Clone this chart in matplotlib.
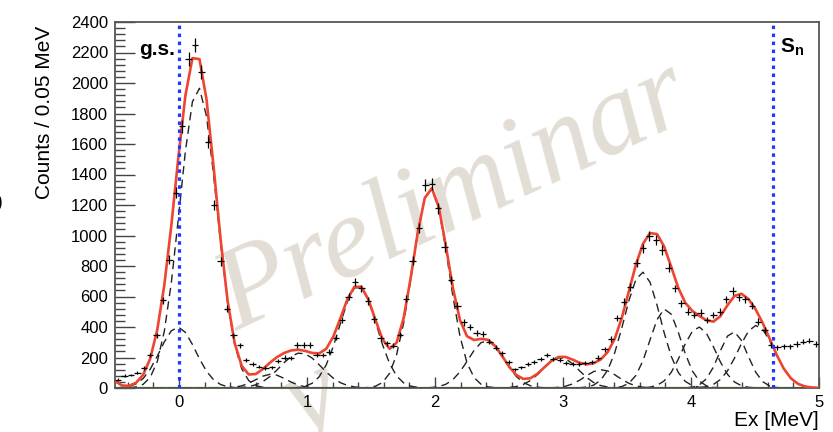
import numpy as np
import matplotlib
matplotlib.use("Agg")
import matplotlib.pyplot as plt
from matplotlib.ticker import MultipleLocator

plt.rcParams['font.family'] = ['Liberation Sans', 'DejaVu Sans']
plt.rcParams['mathtext.fontset'] = 'custom'
plt.rcParams['mathtext.bf'] = 'Liberation Sans:bold'
plt.rcParams['mathtext.rm'] = 'Liberation Sans'

# Excitation-energy histogram, 0.05 MeV bins from -0.5 to 5.0 MeV
bin_width = 0.05
ex_centers = np.round(np.arange(-0.5 + bin_width / 2, 5.0, bin_width), 3)
counts = [
    55, 80, 85, 100, 130, 215, 345, 575, 840, 1280,
    1715, 2160, 2250, 2075, 1615, 1200, 830, 520, 345, 280,
    185, 155, 140, 130, 135, 180, 200, 195, 282, 282,
    282, 216, 218, 238, 330, 446, 600, 694, 653, 570,
    450, 326, 293, 276, 350, 585, 835, 1050, 1331, 1338,
    1178, 925, 710, 540, 430, 402, 360, 354, 304, 265,
    228, 172, 122, 135, 157, 172, 188, 215, 188, 184,
    162, 157, 157, 162, 173, 200, 255, 320, 460, 565,
    660, 820, 915, 997, 970, 905, 790, 653, 555, 501,
    479, 494, 446, 479, 501, 581, 638, 594, 581, 538,
    435, 380, 282, 267, 275, 275, 289, 304, 310, 289,
]

# Gaussian peak components of the fit
peak_centroids = [-0.60, -0.01, 0.15, 0.72, 0.95, 1.40, 1.965, 2.40, 2.98, 3.30,
                  3.62, 3.80, 4.06, 4.33, 4.51]
peak_amplitudes = [110, 400, 1970, 90, 230, 670, 1310, 310, 200, 120,
                   760, 520, 400, 370, 410]
peak_sigmas = [0.075, 0.14, 0.145, 0.12, 0.16, 0.145, 0.14, 0.14, 0.14, 0.13,
               0.14, 0.12, 0.13, 0.11, 0.14]
background_level = 0.0

ground_state = 0.0
neutron_separation = 4.64

fig = plt.figure(figsize=(8.33, 4.32), dpi=100)
ax = fig.add_axes([115 / 833, 1 - 388 / 432, 704 / 833, 366 / 432])
ax.set_xlim(-0.5, 5.0)
ax.set_ylim(0, 2400)

ex_fine = np.linspace(-0.5, 5.0, 101)


def gauss(x, mu, amp, sig):
    return amp * np.exp(-0.5 * ((x - mu) / sig) ** 2)


# flat background
ax.plot([-0.5, 5.0], [background_level, background_level], color='#5fd62c',
        lw=2.4, zorder=1, solid_capstyle='butt')

total = np.full_like(ex_fine, background_level)
for mu, amp, sig in zip(peak_centroids, peak_amplitudes, peak_sigmas):
    comp = gauss(ex_fine, mu, amp, sig)
    total += comp
    ax.plot(ex_fine, comp, color='#222222', lw=1.0, dashes=[6.0, 3.8], zorder=2)

ax.plot(ex_fine, total, color='#ee4430', lw=1.9, zorder=3)

counts_arr = np.asarray(counts, dtype=float)
ax.errorbar(ex_centers, counts_arr, xerr=bin_width / 2, yerr=np.sqrt(counts_arr),
            fmt='none', ecolor='black', elinewidth=0.9, capsize=0, zorder=4)

for xv in (ground_state, neutron_separation):
    ax.axvline(xv, color='#1b3cff', lw=2.3, linestyle=(0, (1.1, 1.4)), zorder=5)

ax.text(-0.03, 2184, 'g.s.', fontsize=15, fontweight='bold', ha='right',
        va='baseline', zorder=6)
ax.text(4.695, 2197, r'$\mathbf{S_n}$', fontsize=15, ha='left', va='baseline',
        zorder=6)

# watermark, wrapped onto two lines
wm_style = dict(fontsize=84, family='Liberation Serif', style='italic',
                color='#e3ded5', rotation=25, rotation_mode='anchor',
                ha='left', va='baseline', clip_on=False, zorder=0.5)
ax.text(0.45, 375, 'Preliminar', **wm_style)
ax.text(0.96, -350, 'y', **wm_style)

ax.xaxis.set_major_locator(MultipleLocator(1))
ax.xaxis.set_minor_locator(MultipleLocator(0.2))
ax.yaxis.set_major_locator(MultipleLocator(200))
ax.yaxis.set_minor_locator(MultipleLocator(40))
ax.tick_params(axis='y', which='major', direction='in', length=14.5, width=1.0,
               labelsize=12, pad=5, color='#444444', right=False)
ax.tick_params(axis='y', which='minor', direction='in', length=7.2, width=1.0,
               color='#444444', right=False)
ax.tick_params(axis='x', which='major', direction='in', length=8, width=1.0,
               labelsize=12, pad=5, color='#444444', top=False)
ax.tick_params(axis='x', which='minor', direction='in', length=4, width=1.0,
               color='#444444', top=False)
for sp in ax.spines.values():
    sp.set_color('#555555')
    sp.set_linewidth(1.3)
ax.patch.set_alpha(0)

ax.set_ylabel('Counts / 0.05 MeV', fontsize=15, loc='top')
ax.yaxis.set_label_coords(-0.086, 0.99)
ax.set_xlabel('Ex [MeV]', fontsize=15, loc='right')
ax.xaxis.set_label_coords(1.0, -0.062)

fig.text(3 / 833, 1 - 202 / 432, ')', fontsize=15, ha='right', va='center')

fig.savefig('out.png', dpi=100)
